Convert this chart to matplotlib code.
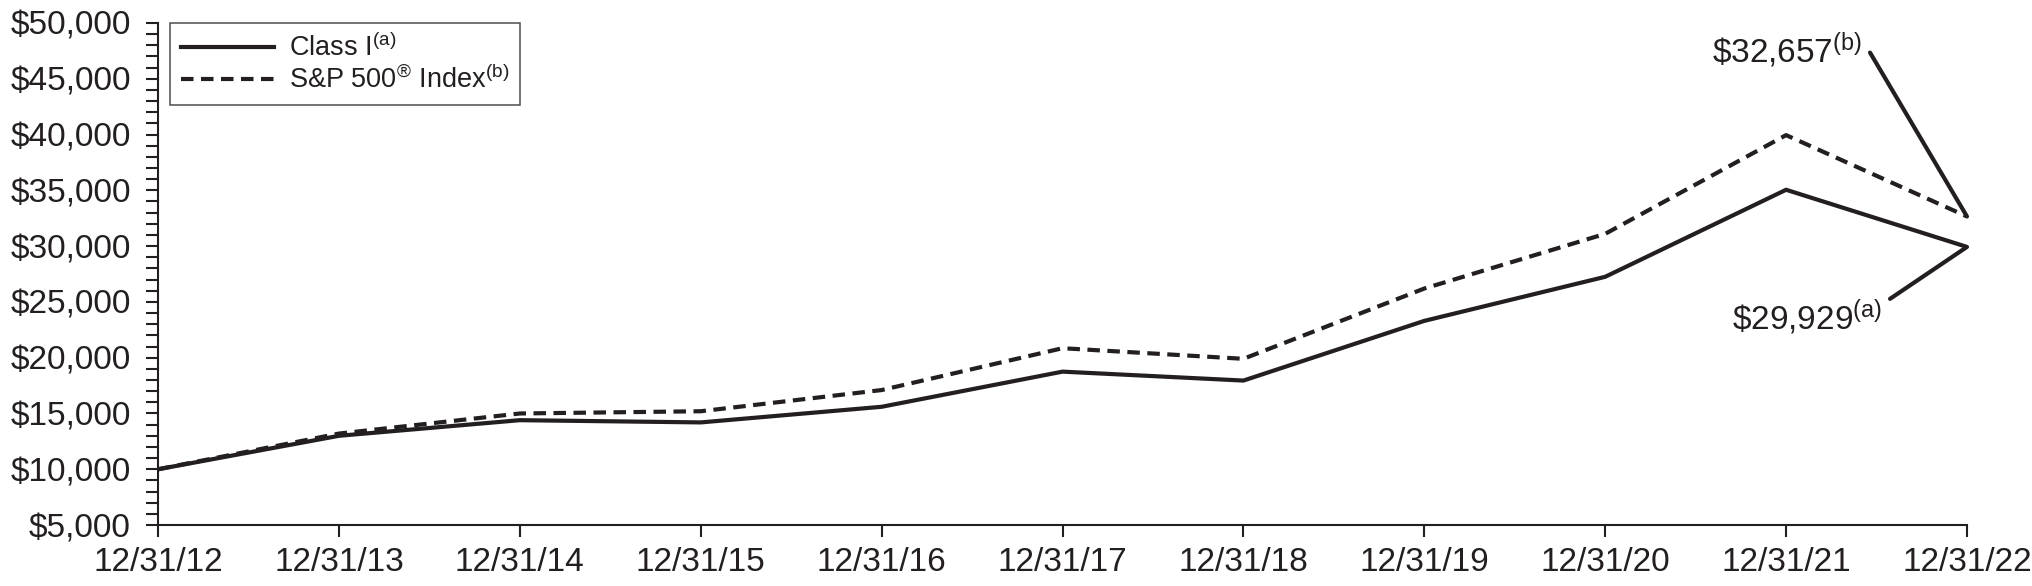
import matplotlib
matplotlib.use("Agg")
from matplotlib import pyplot as plt
from matplotlib.ticker import MultipleLocator, FuncFormatter

# ---- data -------------------------------------------------------------
dates = ["12/31/12", "12/31/13", "12/31/14", "12/31/15", "12/31/16", "12/31/17",
         "12/31/18", "12/31/19", "12/31/20", "12/31/21", "12/31/22"]
class_i = [10000, 13000, 14400, 14200, 15600, 18750, 17950, 23300, 27250, 35050, 29929]
sp500 = [10000, 13200, 15000, 15200, 17100, 20850, 19900, 26200, 31100, 39950, 32657]
class_i_end = r"\$29,929$^{(a)}$"
sp500_end = r"\$32,657$^{(b)}$"

INK = "#231f20"
FS = 24
plt.rcParams.update({"font.family": ["Liberation Sans", "DejaVu Sans"],
                     "mathtext.default": "regular", "text.color": INK,
                     "axes.edgecolor": INK, "xtick.color": INK, "ytick.color": INK})

fig = plt.figure(figsize=(20.32, 5.86), dpi=100)
ax = fig.add_axes([0.0778, 0.104, 0.968 - 0.0778, 0.9608 - 0.104])

x = list(range(len(dates)))
ax.plot(x, class_i, color=INK, lw=3.0, solid_joinstyle="miter",
        label="Class I$^{(a)}$")
ax.plot(x, sp500, color=INK, lw=3.0, dashes=(3, 1.8),
        label="S&P 500$^{®}$ Index$^{(b)}$")

ax.set_xlim(0, len(dates) - 1)
ax.set_ylim(5000, 50000)
ax.set_xticks(x)
ax.set_xticklabels(dates)
ax.yaxis.set_major_locator(MultipleLocator(5000))
ax.yaxis.set_minor_locator(MultipleLocator(1000))
ax.yaxis.set_major_formatter(FuncFormatter(lambda v, _: f"${v:,.0f}"))

for s in ("top", "right"):
    ax.spines[s].set_visible(False)
for s in ("left", "bottom"):
    ax.spines[s].set_linewidth(1.5)
ax.tick_params(axis="both", which="both", direction="out", length=8.6,
               width=1.5, labelsize=FS)
ax.tick_params(axis="x", pad=7)
ax.tick_params(axis="y", pad=11)

# end-point callouts
ax.annotate("", xy=(x[-1], sp500[-1]), xytext=(-69.8, 118),
            textcoords="offset points",
            arrowprops=dict(arrowstyle="-", color=INK, lw=3.0,
                            shrinkA=0, shrinkB=0))
ax.annotate(sp500_end, xy=(x[-1], sp500[-1]), xytext=(-75.6, 110.9),
            textcoords="offset points", ha="right", va="baseline", fontsize=FS)
ax.annotate("", xy=(x[-1], class_i[-1]), xytext=(-55.4, -37.4),
            textcoords="offset points",
            arrowprops=dict(arrowstyle="-", color=INK, lw=3.0,
                            shrinkA=0, shrinkB=0))
ax.annotate(class_i_end, xy=(x[-1], class_i[-1]), xytext=(-61.2, -59),
            textcoords="offset points", ha="right", va="baseline", fontsize=FS)

leg = ax.legend(loc="upper left", bbox_to_anchor=(12 / 1809, 1.0),
                borderaxespad=0, fancybox=False, fontsize=19.5,
                handlelength=3.45, handletextpad=0.55, borderpad=0.4,
                labelspacing=0.12)
leg.get_frame().set_edgecolor(INK)
leg.get_frame().set_linewidth(1.1)

fig.savefig("out.png", dpi=100)
